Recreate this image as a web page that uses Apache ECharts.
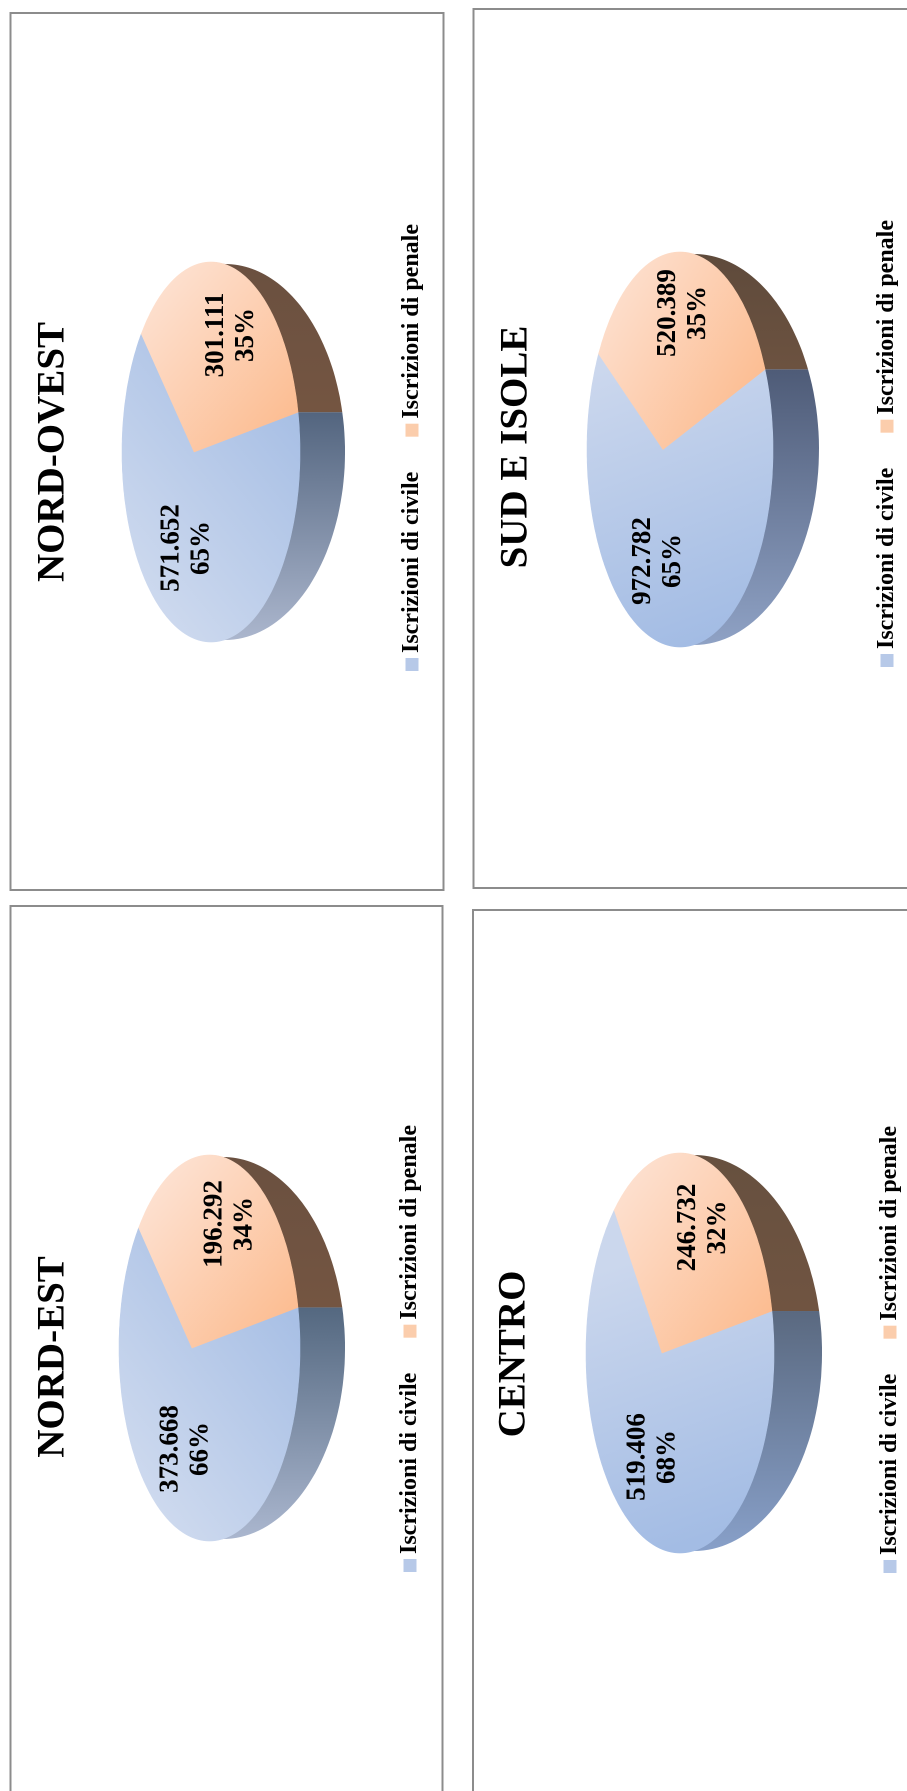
<!DOCTYPE html>
<html lang="it">
<head>
<meta charset="utf-8">
<title>Iscrizioni di civile e di penale</title>
<style>
  html, body { margin: 0; padding: 0; width: 907px; height: 1791px; overflow: hidden; background: #fff; }
  #sheet { position: absolute; left: 0; top: 0; width: 1791px; height: 907px;
           transform-origin: 0 0; transform: translateY(1791px) rotate(-90deg); }
</style>
<script src="https://cdn.jsdelivr.net/npm/echarts@6/dist/echarts.min.js"></script>
</head>
<body>
<div id="sheet"></div>
<script>
// Iscrizioni per area geografica
const regions = ['NORD-EST', 'NORD-OVEST', 'CENTRO', 'SUD E ISOLE'];
const civile = [373668, 571652, 519406, 972782];
const penale = [196292, 301111, 246732, 520389];
const seriesNames = ['Iscrizioni di civile', 'Iscrizioni di penale'];

// The page is laid out landscape and turned a quarter turn; sheet coordinates
// are written here as page coordinates (px, py) and converted with toSheet.
const PAGE_H = 1791;
const toSheet = (px, py) => [PAGE_H - py, px];

const serif = '"Liberation Serif", "Times New Roman", serif';

// Per-panel page geometry of the tilted discs, frames and captions.
const layouts = [
  { frame: [10.5, 906, 442.5, 1800], title: [51, 1357], legend: [219, 412],
    cx: 209.5, cy: 1348, a: 193, b: 90.5, t: -0.193, first: 80,
    ox: 223, ob: 122,
    civLabel: [185.5, 1449], penLabel: [229.5, 1224],
    civGrad: [122, 1460, 300, 1330, '#cdd9ee', '#a9c0e5'],
    penGrad: [150, 1190, 295, 1310, '#fde1d1', '#fcbd92'],
    civSide: [1308, 1541, '#546880', '#abb7cf'],
    penSide: ['#6a5040', '#745541'] },
  { frame: [10.5, 13, 443.5, 890], title: [51, 452], legend: [1120, 414],
    cx: 211, cy: 452, a: 190, b: 89, t: -0.19, first: 80,
    ox: 225, ob: 120,
    civLabel: [186.7, 548], penLabel: [231, 335],
    civGrad: [122, 570, 300, 430, '#cdd9ee', '#a9c0e5'],
    penGrad: [150, 290, 295, 415, '#fde1d1', '#fcbd92'],
    civSide: [413, 640, '#53657f', '#abb6cd'],
    penSide: ['#6a5040', '#745541'] },
  { frame: [473, 910, 915, 1800], title: [512, 1354], legend: [218, 892],
    cx: 680, cy: 1353, a: 200, b: 94, t: -0.191, first: 80,
    ox: 694, ob: 128,
    civLabel: [652.5, 1457], penLabel: [703, 1227.5],
    civGrad: [600, 1270, 695, 1540, '#cbd7ed', '#a3bce4'],
    penGrad: [610, 1190, 770, 1310, '#fde1d1', '#fcbd92'],
    civSide: [1312, 1553, '#5a6980', '#88a0c9'],
    penSide: ['#66503f', '#705441'] },
  { frame: [473.5, 9, 915, 888], title: [514, 447], legend: [1124, 889],
    cx: 680, cy: 449.5, a: 197.5, b: 93, t: -0.183, first: 70,
    ox: 694, ob: 125,
    civLabel: [658, 561], penLabel: [683, 313],
    civGrad: [600, 370, 700, 640, '#cbd7ed', '#a3bce4'],
    penGrad: [600, 290, 760, 385, '#fde1d1', '#fcbd92'],
    civSide: [369, 647, '#4e5b77', '#8fa2c5'],
    penSide: ['#5e4a3b', '#6c5240'] }
];

const gradient = (g) => {
  const p = toSheet(g[0], g[1]);
  const q = toSheet(g[2], g[3]);
  return { type: 'linear', x: p[0], y: p[1], x2: q[0], y2: q[1], global: true,
           colorStops: [{ offset: 0, color: g[4] }, { offset: 1, color: g[5] }] };
};

// A point of the disc's rim as seen in perspective: the disc centre falls
// behind the centre of the projected ellipse by the factor t.
function project(L, deg) {
  const phi = deg * Math.PI / 180;
  const x = Math.cos(phi), y = Math.sin(phi);
  const d = 1 + L.t * y;
  const u = x * Math.sqrt(1 - L.t * L.t) / d;
  const v = (y + L.t) / d;
  return [L.cx + L.b * v, L.cy - L.a * u];
}

function wallPoints(L, seamY, dir) {
  const oa = L.a - 2;
  const n = 48, pts = [];
  const from = Math.asin((seamY - L.cy) / oa);
  const to = dir * Math.PI / 2;
  for (let i = 0; i <= n; i++) {
    const al = from + (to - from) * i / n;
    pts.push(toSheet(L.ox + L.ob * Math.cos(al), L.cy + oa * Math.sin(al)));
  }
  const innerTo = Math.asin((seamY - L.cy) / L.a);
  for (let i = 0; i <= n; i++) {
    const be = to + (innerTo - to) * i / n;
    pts.push(toSheet(L.cx + (L.b - 1) * Math.cos(be), L.cy + L.a * Math.sin(be)));
  }
  return pts;
}

const thousands = (v) => String(v).replace(/\B(?=(\d{3})+$)/g, '.');

function sliceRenderer(L, kind) {
  return function (params, api) {
    const value = api.value(0), before = api.value(1), total = api.value(2);
    const share = value / total;
    const start = L.first + before / total * 360;
    const span = share * 360;
    const seamY = project(L, L.first)[1];

    // The slice fans out from the true disc centre.
    const pts = [toSheet(L.cx + L.b * L.t, L.cy)];
    const steps = Math.ceil(span);
    for (let i = 0; i <= steps; i++) {
      pts.push(toSheet.apply(null, project(L, start + span * i / steps)));
    }

    const isCiv = kind === 0;
    const sideFill = isCiv
      ? gradient([L.cx, L.civSide[0], L.cx, L.civSide[1], L.civSide[2], L.civSide[3]])
      : gradient([L.cx, L.cy - L.a, L.cx, seamY, L.penSide[0], L.penSide[1]]);
    const topFill = gradient(isCiv ? L.civGrad : L.penGrad);
    const lab = isCiv ? L.civLabel : L.penLabel;
    const labPos = toSheet(lab[0], lab[1]);

    return {
      type: 'group',
      children: [
        { type: 'polygon', shape: { points: wallPoints(L, seamY, isCiv ? 1 : -1) }, style: { fill: sideFill } },
        { type: 'polygon', shape: { points: pts }, style: { fill: topFill, stroke: topFill, lineWidth: 0.6 } },
        { type: 'text', x: labPos[0], y: labPos[1], z2: 10,
          style: { text: thousands(value) + '\n' + Math.round(share * 100) + '%',
                   fill: '#000', font: 'bold 27px ' + serif, lineHeight: 30,
                   align: 'center', verticalAlign: 'middle' } }
      ]
    };
  };
}

const series = [];
const titles = [];
const legends = [];
const frames = [];

regions.forEach((name, i) => {
  const L = layouts[i];
  const total = civile[i] + penale[i];
  series.push({
    type: 'custom', name: seriesNames[0], coordinateSystem: 'none', silent: true,
    animation: false, itemStyle: { color: '#b7c9e8' },
    renderItem: sliceRenderer(L, 0), data: [[civile[i], 0, total]]
  });
  series.push({
    type: 'custom', name: seriesNames[1], coordinateSystem: 'none', silent: true,
    animation: false, itemStyle: { color: '#fbcdac' },
    renderItem: sliceRenderer(L, 1), data: [[penale[i], civile[i], total]]
  });

  const t = toSheet(L.title[0], L.title[1]);
  titles.push({
    text: name, left: t[0], top: t[1] - 17, textAlign: 'center', padding: 0,
    textStyle: { fontFamily: serif, fontWeight: 'bold', fontSize: 39, color: '#000' }
  });
  legends.push({
    data: seriesNames, left: L.legend[0], top: L.legend[1] - 14, padding: 0,
    orient: 'horizontal', icon: 'rect', itemWidth: 13, itemHeight: 13, itemGap: 35,
    selectedMode: false,
    textStyle: { fontFamily: serif, fontWeight: 'bold', fontSize: 24, color: '#000' }
  });

  const p = toSheet(L.frame[2], L.frame[3]);
  const q = toSheet(L.frame[0], L.frame[1]);
  frames.push({
    type: 'rect', silent: true,
    shape: { x: p[0], y: q[1], width: q[0] - p[0], height: p[1] - q[1] },
    style: { fill: '#fff', stroke: '#8c8c8c', lineWidth: 2 }
  });
});

const chart = echarts.init(document.getElementById('sheet'), null, { width: 1791, height: 907, devicePixelRatio: 2 });
chart.setOption({
  animation: false,
  backgroundColor: '#fff',
  title: titles,
  legend: legends,
  graphic: frames,
  series: series
});
</script>
</body>
</html>
